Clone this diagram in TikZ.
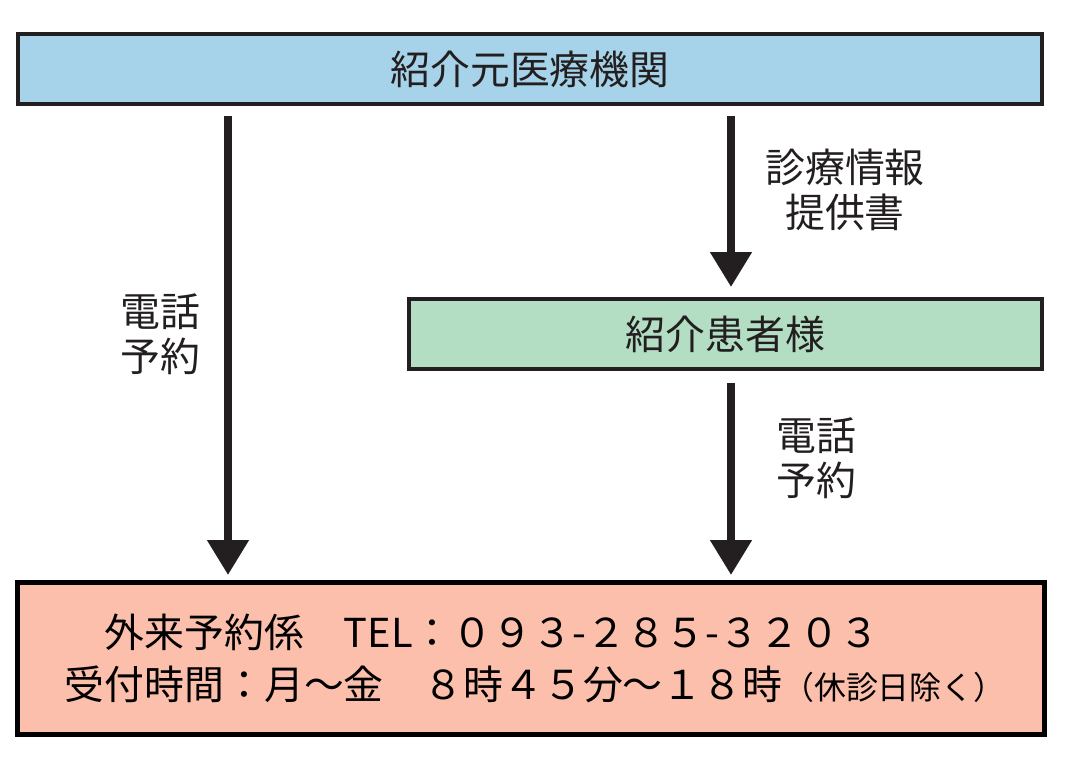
\documentclass[tikz,border=0pt]{standalone}
\usepackage{fontspec}
\setmainfont{Noto Sans CJK JP}
\usepackage{xcolor}
\usetikzlibrary{arrows.meta, calc}
\definecolor{skyfill}{HTML}{A6D3E9}
\definecolor{mintfill}{HTML}{B3DEC4}
\definecolor{salmonfill}{HTML}{FCBFAC}
\definecolor{inkline}{HTML}{231F20}

\begin{document}
\begin{tikzpicture}[x=1bp, y=-1bp,
    box/.style={draw=inkline, line width=4bp, fill=#1, minimum height=70bp, inner sep=0pt, text=inkline, font=\fontsize{40}{45}\selectfont},
    arr/.style={-{Triangle[width=40bp,length=35bp]}, line width=8bp, draw=inkline},
    lbl/.style={font=\fontsize{40}{45}\selectfont, align=center, text=inkline}
]
    \useasboundingbox (0,0) rectangle (1078,768);

    % Boxes
    \node[box=skyfill,  minimum width=1024bp] (origin)  at (530,69)    {紹介元医療機関};
    \node[box=mintfill, minimum width=633bp]  (patient) at (725.5,334) {紹介患者様};
    \node[box=salmonfill, draw=black, line width=5bp, minimum height=152bp,
          inner xsep=47.5bp, text width=932bp, align=left, text=black,
          font=\fontsize{40}{52}\selectfont] (desk) at (531,658.5)
          {　外来予約係　TEL：０９３-２８５-３２０３\\
           受付時間：月～金　８時４５分～１８時{\fontsize{32}{52}\selectfont（休診日除く）}};

    % Lanes
    \coordinate (laneL) at (228,0);
    \coordinate (laneR) at (731,0);

    % Arrows
    \draw[arr, shorten <=10bp, shorten >=5bp]  (origin.south -| laneL)  -- (desk.north -| laneL);
    \draw[arr, shorten <=10bp, shorten >=10bp] (origin.south -| laneR)  -- (patient.north -| laneR);
    \draw[arr, shorten <=12bp, shorten >=5bp]  (patient.south -| laneR) -- (desk.north -| laneR);

    % Labels
    \node[lbl] (callL)  at (160,334) {電話\\予約};
    \node[lbl] (letter) at (845,190) {診療情報\\提供書};
    \node[lbl] (callR)  at (816,458) {電話\\予約};
\end{tikzpicture}
\end{document}
